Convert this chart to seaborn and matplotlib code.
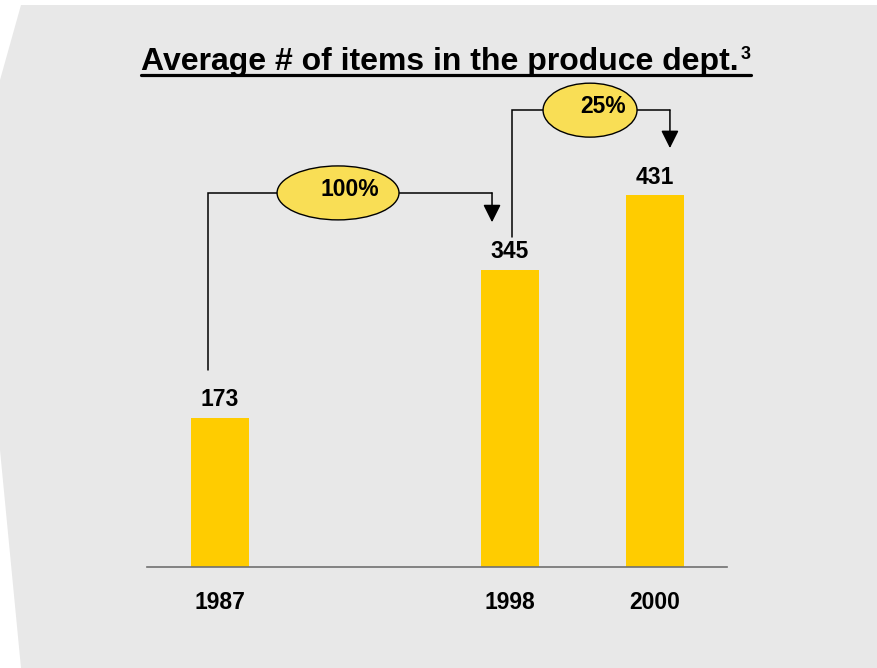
import matplotlib
matplotlib.use("Agg")
import matplotlib.pyplot as plt
import seaborn as sns
import pandas as pd
from matplotlib.patches import Polygon, Ellipse
from matplotlib.lines import Line2D

# Data
years = ["1987", "1998", "2000"]
items = [173, 345, 431]
slot_order = ["1987", " ", "1998", "2000"]   # empty slot between 1987 and 1998
growth_labels = ["100%", "25%"]
title_text = "Average # of items in the produce dept."
footnote_mark = "3"

BAR = "#FFCC00"
BUBBLE = "#F9DE55"
PANEL = "#E8E8E8"
AXIS = "#707070"

sns.set_theme(style="white")
plt.rcParams["font.family"] = ["Liberation Sans", "DejaVu Sans"]

W, H = 878, 668
fig = plt.figure(figsize=(W / 100, H / 100), dpi=100)
fig.patch.set_facecolor("white")


def fpx(x, y):
    """pixel position (origin top-left) -> figure fraction"""
    return (x / W, 1 - y / H)


# grey slide panel with clipped left corners, kept behind the axes
panel = Polygon([fpx(21, 5), fpx(877, 5), fpx(877, 668), fpx(21, 668),
                 fpx(0, 450), fpx(0, 80)], closed=True,
                transform=fig.transFigure, facecolor=PANEL,
                edgecolor="none", zorder=-1)
fig.patches.append(panel)

ax = fig.add_axes([147.5 / W, 101 / H, 580 / W, 482.7 / H])
ax.set_facecolor("none")
ax.set_zorder(1)

df = pd.DataFrame({"year": years, "items": items})
sns.barplot(data=df, x="year", y="items", order=slot_order, color=BAR,
            width=0.4, saturation=1, linewidth=0, ax=ax)

ax.set_xlim(-0.5, 3.5)
ax.set_ylim(0, 560)
ax.set_xlabel("")
ax.set_ylabel("")
ax.set_yticks([])
for s in ["left", "top", "right"]:
    ax.spines[s].set_visible(False)
ax.spines["bottom"].set_color(AXIS)
ax.spines["bottom"].set_linewidth(1.2)
ax.tick_params(axis="x", length=0, pad=17.5)
for lab in ax.get_xticklabels():
    lab.set_fontsize(16.5)
    lab.set_fontweight("bold")
    lab.set_color("black")

for c in ax.containers:
    ax.bar_label(c, fmt="{:.0f}", padding=5, fontsize=16.5,
                 fontweight="bold", color="black")

# growth connectors: (start x, start y, top y, end x, arrow tip y)
LW = 1.1
connectors = [
    dict(x0=-0.083, y0=228, ytop=434, x1=1.876, ytip=400,
         ecx=0.814, ew=0.841, tx=0.897, label=growth_labels[0]),
    dict(x0=2.014, y0=383, ytop=530, x1=3.103, ytip=486,
         ecx=2.552, ew=0.648, tx=2.641, label=growth_labels[1]),
]
for c in connectors:
    ax.plot([c["x0"], c["x0"], c["x1"]], [c["y0"], c["ytop"], c["ytop"]],
            color="black", lw=LW, clip_on=False, zorder=3,
            solid_joinstyle="miter")
    ax.annotate("", xy=(c["x1"], c["ytip"]), xytext=(c["x1"], c["ytop"]),
                arrowprops=dict(arrowstyle="-|>,head_length=0.4,head_width=0.2",
                                mutation_scale=27, color="black", lw=LW,
                                shrinkA=0, shrinkB=0),
                annotation_clip=False, zorder=3)
    ell = Ellipse((c["ecx"], c["ytop"]), c["ew"], 62.6, facecolor=BUBBLE,
                  edgecolor="black", lw=1.0, clip_on=False, zorder=4)
    ax.add_patch(ell)
    ax.text(c["tx"], c["ytop"] + 4, c["label"], ha="center", va="center",
            fontsize=16.5, fontweight="bold", color="black", zorder=5,
            clip_on=False)

# underlined title with footnote mark
t = fig.text(141 / W, 1 - 70 / H, title_text, ha="left", va="baseline",
             fontsize=23, fontweight="bold", color="black")
fig.canvas.draw()
r = fig.canvas.get_renderer()
bb = t.get_window_extent(r)
sup = fig.text((bb.x1 + 2) / W, 1 - 59 / H, footnote_mark, ha="left",
               va="baseline", fontsize=13, fontweight="bold", color="black")
sbb = sup.get_window_extent(r)
fig.add_artist(Line2D([bb.x0 / W, sbb.x1 / W], [1 - 75 / H, 1 - 75 / H],
                      transform=fig.transFigure, color="black", lw=2.3))

fig.savefig("out.png", dpi=100, facecolor=fig.get_facecolor())
